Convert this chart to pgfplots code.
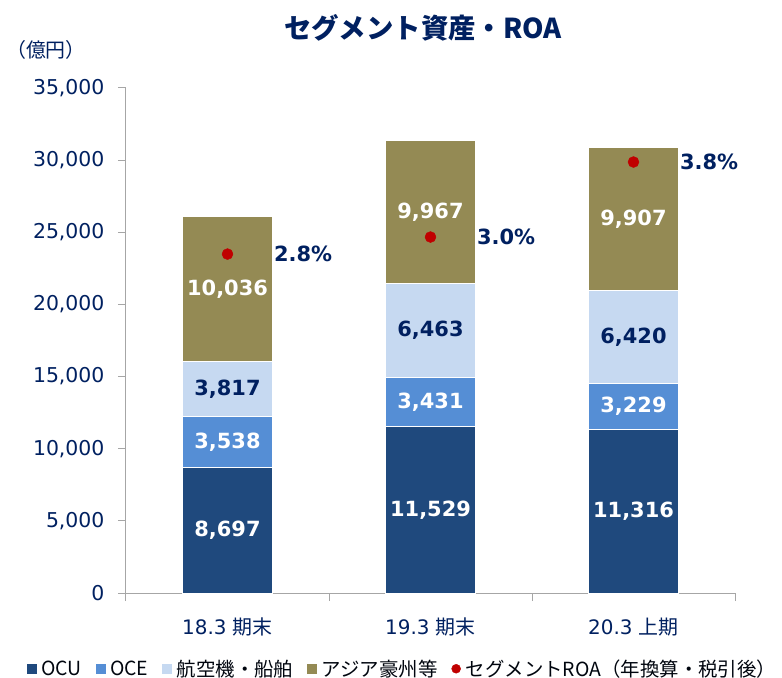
\documentclass[border=0pt]{standalone}
\usepackage{pgfplots}
\pgfplotsset{compat=1.18}
\usepackage{fontspec}
\setmainfont{DejaVu Sans}
\newfontfamily\jp{Noto Sans CJK JP}
\definecolor{navy}{RGB}{0,32,96}
\definecolor{cOCU}{RGB}{31,73,125}
\definecolor{cOCE}{RGB}{85,142,213}
\definecolor{cAir}{RGB}{198,217,241}
\definecolor{cAsia}{RGB}{148,138,84}
\definecolor{cRed}{RGB}{192,0,0}
\definecolor{axgray}{RGB}{166,166,166}
\begin{document}
\begin{tikzpicture}
\useasboundingbox (-126bp,-85bp) rectangle (656bp,593bp);
\pgfplotsset{
  common/.style={
    scale only axis, width=609bp, height=505bp,
    at={(0,0)}, anchor=south west,
    xmin=-0.5, xmax=2.5, ymin=0, ymax=35000,
  },
  lbl/.style={draw=none, mark=none, forget plot, nodes near coords,
    point meta=explicit symbolic,
    every node near coord/.append style={anchor=center, text=#1,
      font=\bfseries\fontsize{21}{25}\selectfont}},
}
\begin{axis}[common,
  ybar stacked, bar width=90bp,
  axis lines*=left,
  axis line style={axgray, line width=1bp},
  tick style={axgray, line width=1bp},
  tick align=outside, major tick length=8bp,
  ytick={0,5000,...,35000},
  scaled y ticks=false,
  /pgf/number format/1000 sep={,},
  /pgf/number format/assume math mode=true,
  yticklabel style={font=\fontsize{20.5}{24}\selectfont, text=navy, xshift=-10bp},
  xtick={-0.5,0.5,1.5,2.5}, xticklabels={},
  extra x ticks={0,1,2},
  extra x tick labels={18.3 {\jp 期末}, 19.3 {\jp 期末}, 20.3 {\jp 上期}},
  extra x tick style={major tick length=0pt},
  xticklabel style={font=\fontsize{20}{24}\selectfont, text=navy, yshift=-21bp},
]
\addplot[fill=cOCU, draw=white, line width=1bp] coordinates {(0,8697) (1,11529) (2,11316)};
\addplot[fill=cOCE, draw=white, line width=1bp] coordinates {(0,3538) (1,3431) (2,3229)};
\addplot[fill=cAir, draw=white, line width=1bp] coordinates {(0,3817) (1,6463) (2,6420)};
\addplot[fill=cAsia, draw=white, line width=1bp] coordinates {(0,10036) (1,9967) (2,9907)};
\end{axis}
\begin{axis}[common, hide axis, clip=false,
  legend style={at={(0.454,-0.15)}, anchor=center, draw=none, fill=none,
    legend columns=-1, font=\jp\fontsize{19.5}{23}\selectfont, text=black!85!navy,
    /tikz/every even column/.append style={column sep=12bp},
    /tikz/every odd column/.append style={column sep=3bp}},
]
\addplot[lbl=white] coordinates {(0,4348.5)[8,697] (1,5764.5)[11,529] (2,5658)[11,316]};
\addplot[lbl=white] coordinates {(0,10466)[3,538] (1,13244.5)[3,431] (2,12930.5)[3,229]};
\addplot[lbl=navy] coordinates {(0,14143.5)[3,817] (1,18191.5)[6,463] (2,17755)[6,420]};
\addplot[lbl=white] coordinates {(0,21070)[10,036] (1,26406.5)[9,967] (2,25918.5)[9,907]};
\addlegendimage{legend image code/.code={\fill[cOCU] (0bp,-4.5bp) rectangle (9bp,4.5bp);}}
\addlegendentry{OCU}
\addlegendimage{legend image code/.code={\fill[cOCE] (0bp,-4.5bp) rectangle (9bp,4.5bp);}}
\addlegendentry{OCE}
\addlegendimage{legend image code/.code={\fill[cAir] (0bp,-4.5bp) rectangle (9bp,4.5bp);}}
\addlegendentry{航空機・船舶}
\addlegendimage{legend image code/.code={\fill[cAsia] (0bp,-4.5bp) rectangle (9bp,4.5bp);}}
\addlegendentry{アジア豪州等}
\addplot[only marks, mark=*, mark size=5.5bp, color=cRed,
  legend image code/.code={\fill[cRed] (4.5bp,0bp) circle (4.5bp);},
  nodes near coords, point meta=explicit symbolic,
  every node near coord/.append style={anchor=west, xshift=43bp, text=navy,
    font=\bfseries\fontsize{21}{25}\selectfont}]
  coordinates {(0,23490)[2.8\%] (1,24670)[3.0\%] (2,29870)[3.8\%]};
\addlegendentry{セグメントROA（年換算・税引後）}
\end{axis}
\node[font=\jp\bfseries\fontsize{27.5}{32}\selectfont, text=navy] at (297bp,565bp) {セグメント資産・ROA};
\node[font=\jp\fontsize{20}{24}\selectfont, text=navy] at (-80bp,543bp) {（億円）};
\end{tikzpicture}
\end{document}
